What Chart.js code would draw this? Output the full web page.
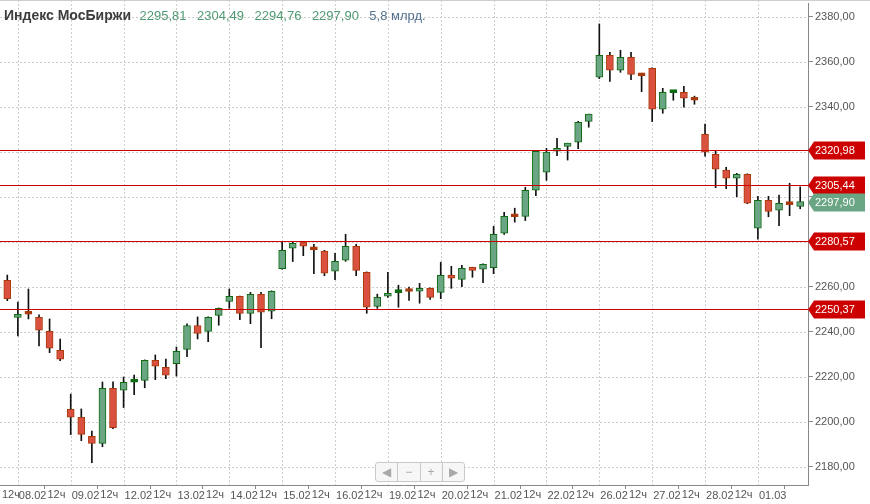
<!DOCTYPE html>
<html>
<head>
<meta charset="utf-8">
<script src="https://cdn.jsdelivr.net/npm/chart.js@4"></script>
<style>
  html, body { margin: 0; padding: 0; background: #fff; }
  #wrap { position: relative; width: 870px; height: 504px; overflow: hidden; }
  #title { position: absolute; left: 4px; top: 6px; font-family: "Liberation Sans", Arial, sans-serif; white-space: nowrap; }
  #title b { font-size: 14px; color: #3d3d3d; margin-right: 4px; }
  #title .v { font-size: 13px; color: #4f9a72; margin-right: 6px; }
  #title .vol { font-size: 13px; color: #52718f; }
  #nav { position: absolute; left: 375px; top: 462px; width: 88px; height: 18px; border: 1px solid #c9c9c9; border-radius: 3px; background: rgba(246,246,246,0.85); display: flex; font-family: "Liberation Sans", Arial, sans-serif; }
  #nav div { flex: 1; text-align: center; line-height: 18px; font-size: 12px; color: #a8a8a8; border-left: 1px solid #c9c9c9; }
  #nav div:first-child { border-left: none; }
</style>
</head>
<body>
<div id="wrap">
  <canvas id="c" width="870" height="504"></canvas>
  <div id="title"><b>Индекс МосБиржи</b> <span class="v">2295,81</span> <span class="v">2304,49</span> <span class="v">2294,76</span> <span class="v">2297,90</span> <span class="vol">5,8 млрд.</span></div>
  <div id="nav"><div>&#9664;</div><div>&minus;</div><div>+</div><div>&#9654;</div></div>
</div>
<script>
// candles, one per index
const open = [2263.0,2246.5,2248.0,2246.5,2240.3,2231.9,2205.6,2202.1,2193.6,2190.5,
  2215.0,2214.1,2217.7,2218.5,2227.4,2224.3,2225.9,2232.3,2242.9,2240.3,
  2247.4,2253.6,2255.8,2248.3,2256.7,2249.2,2268.1,2277.2,2279.9,2276.6,
  2275.9,2267.0,2271.9,2278.1,2266.5,2251.4,2255.9,2257.5,2258.1,2258.1,
  2259.4,2257.6,2265.2,2263.4,2268.3,2267.9,2268.6,2283.9,2291.3,2291.4,
  2303.0,2311.0,2320.3,2322.5,2324.3,2333.6,2353.2,2363.0,2356.3,2362.1,
  2353.9,2357.2,2339.0,2346.4,2346.5,2343.1,2327.9,2319.0,2311.9,2308.3,
  2310.1,2286.1,2298.5,2294.1,2296.7,2295.81];
const high = [2265.3,2253.3,2259.1,2247.6,2245.8,2236.9,2212.4,2205.8,2196.0,2217.8,
  2217.8,2220.0,2220.9,2227.6,2229.8,2228.0,2233.3,2243.6,2246.7,2246.7,
  2250.7,2259.1,2256.0,2257.6,2257.6,2258.3,2280.3,2280.3,2280.0,2279.0,
  2276.3,2275.0,2283.4,2279.0,2266.7,2256.8,2266.5,2260.8,2259.9,2261.6,
  2259.6,2271.0,2269.2,2269.6,2268.8,2270.3,2287.0,2293.2,2295.0,2304.3,
  2320.6,2321.6,2326.1,2323.9,2333.6,2336.8,2376.9,2364.3,2365.2,2364.3,
  2355.0,2357.4,2348.3,2347.4,2349.2,2344.8,2332.4,2320.3,2313.2,2310.5,
  2310.3,2300.3,2300.3,2300.8,2306.1,2304.49];
const low = [2253.9,2238.2,2245.8,2233.8,2230.8,2227.2,2194.4,2191.7,2181.9,2189.0,
  2197.0,2206.4,2212.1,2215.2,2218.8,2219.2,2220.4,2229.0,2236.9,2235.7,
  2243.0,2250.5,2245.5,2243.7,2233.0,2245.9,2267.9,2271.3,2273.9,2265.9,
  2265.0,2263.2,2271.4,2265.0,2248.3,2250.5,2255.4,2251.0,2254.0,2252.8,
  2254.5,2254.8,2259.4,2260.1,2264.3,2261.9,2265.9,2283.4,2288.8,2289.5,
  2300.6,2307.4,2318.4,2316.4,2321.5,2331.0,2352.6,2351.4,2355.4,2352.1,
  2346.8,2333.5,2337.2,2343.0,2339.9,2341.2,2318.1,2304.1,2303.7,2300.1,
  2297.0,2281.2,2291.2,2287.2,2291.7,2294.76];
const close = [2254.8,2247.9,2247.9,2240.8,2232.8,2227.9,2202.1,2194.5,2190.5,2215.0,
  2197.5,2217.6,2217.8,2227.4,2224.8,2220.8,2231.4,2242.9,2239.4,2246.5,
  2250.5,2255.8,2248.3,2256.7,2248.8,2258.1,2276.3,2279.4,2278.1,2276.5,
  2266.1,2271.4,2278.1,2267.4,2251.0,2255.4,2257.2,2257.6,2258.0,2259.4,
  2255.4,2265.2,2263.9,2268.3,2267.4,2270.1,2283.4,2291.4,2291.2,2303.0,
  2320.3,2319.9,2321.5,2323.9,2333.2,2336.8,2363.0,2356.3,2362.1,2354.5,
  2353.8,2339.0,2346.5,2346.5,2343.9,2343.0,2319.9,2312.3,2308.3,2310.1,
  2297.2,2298.5,2293.6,2297.2,2296.6,2297.90];

const dateLabels = ['08.02','09.02','12.02','13.02','14.02','15.02','16.02','19.02',
  '20.02','21.02','22.02','26.02','27.02','28.02','01.03'];
const dateIndex = dateLabels.map((d, k) => 1 + 5 * k);
const hourLabel = '12ч';

const levels = [2320.98, 2305.44, 2280.57, 2250.37];
const lastPrice = 2297.90;
const yTicks = [2180, 2200, 2220, 2240, 2260, 2280, 2300, 2320, 2340, 2360, 2380];

const fmt = v => v.toFixed(2).replace('.', ',');
const up = i => close[i] >= open[i];
const doji = i => Math.abs(close[i] - open[i]) < 0.5;

const GREEN = '#6aa584', GREEN_B = '#0f6a12';
const RED = '#da513f', RED_B = '#a83a0c';
const FONT = '11px "Liberation Sans", Arial, sans-serif';

const extras = {
  id: 'extras',
  beforeDatasetsDraw(chart) {
    // dotted grid
    const {ctx, chartArea: a, scales: {x, y}} = chart;
    ctx.save();
    ctx.strokeStyle = '#cdcdcd';
    ctx.lineWidth = 1;
    ctx.setLineDash([2, 2]);
    yTicks.forEach(v => {
      const py = Math.round(y.getPixelForValue(v)) + 0.5;
      ctx.beginPath(); ctx.moveTo(a.left, py); ctx.lineTo(a.right, py); ctx.stroke();
    });
    dateIndex.forEach(i => {
      const px = Math.round(x.getPixelForValue(i)) + 0.5;
      ctx.beginPath(); ctx.moveTo(px, 0); ctx.lineTo(px, a.bottom); ctx.stroke();
    });
    ctx.restore();
  },
  afterDatasetsDraw(chart) {
    const {ctx, chartArea: a, scales: {y}} = chart;
    ctx.save();
    ctx.strokeStyle = '#cc0000';
    ctx.lineWidth = 1;
    levels.forEach(v => {
      const py = Math.round(y.getPixelForValue(v)) + 0.5;
      ctx.beginPath(); ctx.moveTo(a.left, py); ctx.lineTo(a.right, py); ctx.stroke();
    });
    ctx.restore();
  },
  afterDraw(chart) {
    const {ctx, chartArea: a, scales: {x, y}} = chart;
    ctx.save();
    ctx.strokeStyle = '#cfcfcf';
    ctx.beginPath(); ctx.moveTo(0, 0.5); ctx.lineTo(870, 0.5); ctx.stroke();
    // 12ч labels between the date ticks
    ctx.fillStyle = '#555';
    ctx.font = FONT;
    ctx.textBaseline = 'middle';
    ctx.textAlign = 'center';
    dateIndex.forEach(i => {
      let px = x.getPixelForValue(i - 1.35);
      const w = ctx.measureText(hourLabel).width;
      if (px - w / 2 < 2) px = 2 + w / 2;
      ctx.fillText(hourLabel, px, 495);
    });
    // price tags on the axis
    const tag = (v, color) => {
      const py = Math.round(y.getPixelForValue(v)) + 0.5;
      const x0 = a.right, x1 = 865, h = 18;
      ctx.fillStyle = color;
      ctx.beginPath();
      ctx.moveTo(x0, py);
      ctx.lineTo(x0 + 6, py - h / 2);
      ctx.lineTo(x1, py - h / 2);
      ctx.lineTo(x1, py + h / 2);
      ctx.lineTo(x0 + 6, py + h / 2);
      ctx.closePath();
      ctx.fill();
      ctx.fillStyle = '#fff';
      ctx.textAlign = 'left';
      ctx.fillText(fmt(v), x0 + 7, py + 0.5);
    };
    levels.forEach(v => tag(v, '#cc0000'));
    tag(lastPrice, '#6aa584');
    ctx.restore();
  }
};

new Chart(document.getElementById('c'), {
  type: 'bar',
  data: {
    datasets: [
      {
        label: 'body',
        order: 1,
        grouped: false,
        data: open.map((o, i) => ({x: i, y: [o, close[i]]})),
        backgroundColor: c => doji(c.dataIndex) ? (up(c.dataIndex) ? GREEN_B : RED_B) : (up(c.dataIndex) ? GREEN : RED),
        borderColor: c => up(c.dataIndex) ? GREEN_B : RED_B,
        borderWidth: 1,
        borderSkipped: false,
        barThickness: 7,
        minBarLength: 3,
      },
      {
        label: 'wick',
        order: 2,
        grouped: false,
        data: low.map((l, i) => ({x: i, y: [l, high[i]]})),
        backgroundColor: '#111',
        borderWidth: 0,
        barThickness: 1,
      },
    ],
  },
  options: {
    responsive: false,
    animation: false,
    layout: {padding: {top: 3, left: 0, right: 0, bottom: 0}},
    plugins: {legend: {display: false}, tooltip: {enabled: false}},
    scales: {
      x: {
        type: 'linear',
        min: -0.69,
        max: 75.74,
        offset: false,
        afterBuildTicks: s => { s.ticks = dateIndex.map(v => ({value: v})); },
        afterFit: s => { s.height = 19; s.paddingLeft = 0; s.paddingRight = 0; },
        grid: {drawOnChartArea: false, tickColor: '#888', tickLength: 4},
        border: {display: true, color: '#888'},
        ticks: {
          autoSkip: false, maxRotation: 0, align: 'start', padding: 0, labelOffset: 1,
          color: '#555', font: {family: '"Liberation Sans", Arial, sans-serif', size: 11},
          callback: (v, idx) => dateLabels[idx],
        },
      },
      y: {
        position: 'right',
        min: 2172,
        max: 2386.2,
        afterBuildTicks: s => { s.ticks = yTicks.map(v => ({value: v})); },
        afterFit: s => { s.width = 62; s.paddingTop = 0; s.paddingBottom = 0; },
        grid: {drawOnChartArea: false, tickColor: '#888', tickLength: 5},
        border: {display: true, color: '#888'},
        ticks: {
          autoSkip: false, padding: 2, color: '#555',
          font: {family: '"Liberation Sans", Arial, sans-serif', size: 11},
          callback: v => fmt(v),
        },
      },
    },
  },
  plugins: [extras],
});
</script>
</body>
</html>
